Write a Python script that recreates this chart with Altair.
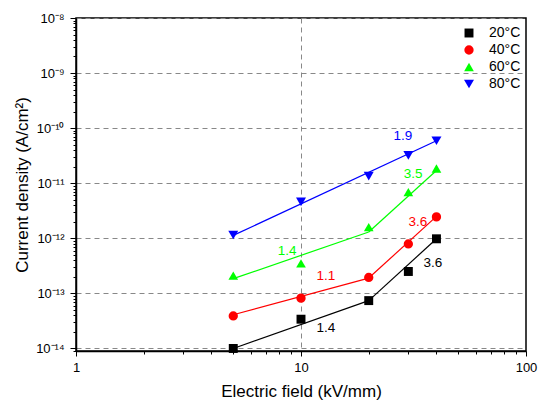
import altair as alt
import pandas as pd

temps = ["20°C", "40°C", "60°C", "80°C"]
colors = ["#000000", "#ff0000", "#00ff00", "#0000ff"]
shapes = ["square", "circle", "triangle-up", "triangle-down"]
sizes = [80, 100, 150, 150]
field = [5, 10, 20, 30, 40]
j20 = [1.0e-14, 3.4e-14, 7.4e-14, 2.5e-13, 9.8e-13]
j40 = [3.9e-14, 8.2e-14, 1.95e-13, 7.9e-13, 2.45e-12]
j60 = [2.1e-13, 3.5e-13, 1.6e-12, 6.9e-12, 1.85e-11]
j80 = [1.15e-12, 4.6e-12, 1.35e-11, 3.2e-11, 5.9e-11]

fit_temp = ["20°C", "20°C", "40°C", "40°C", "60°C", "60°C", "80°C"]
fit_x1 = [5, 20, 5, 20, 5, 20, 5]
fit_x2 = [20, 40, 20, 40, 20, 40, 40]
fit_y1 = [1.0e-14, 7.4e-14, 4.1e-14, 1.9e-13, 1.85e-13, 1.3e-12, 1.13e-12]
fit_y2 = [7.4e-14, 9.8e-13, 1.9e-13, 2.5e-12, 1.3e-12, 1.7e-11, 5.9e-11]

lab_text = ["1.9", "3.5", "3.6", "3.6", "1.4", "1.1", "1.4"]
lab_temp = ["80°C", "60°C", "40°C", "20°C", "60°C", "40°C", "20°C"]
lab_x = [28.4, 31.5, 33.1, 38.6, 8.67, 12.9, 12.9]
lab_y = [7.2e-11, 1.5e-11, 1.95e-12, 3.55e-13, 6.0e-13, 2.1e-13, 2.4e-14]

col_of = dict(zip(temps, colors))

rows = []
for t, js in zip(temps, [j20, j40, j60, j80]):
    for x, y in zip(field, js):
        rows.append({"temp": t, "E": x, "J": y})
pts = pd.DataFrame(rows)
fits = pd.DataFrame({"temp": fit_temp, "x1": fit_x1, "x2": fit_x2, "y1": fit_y1, "y2": fit_y2})
fits["c"] = fits["temp"].map(col_of)
labs = pd.DataFrame({"t": lab_text, "temp": lab_temp, "x": lab_x, "y": lab_y})
labs["c"] = labs["temp"].map(col_of)

sup = {"-": "⁻", "0": "⁰", "1": "¹", "2": "²", "3": "³", "4": "⁴", "5": "⁵", "6": "⁶", "7": "⁷", "8": "⁸", "9": "⁹"}
def supstr(e):
    return "".join(sup[ch] for ch in str(e))

LOGV = "(log(datum.value)/LN10)"
MAJOR = f"abs({LOGV} - round({LOGV})) < 0.001"

yexpr = "''"
for e in range(-8, -15, -1):
    yexpr = f"round({LOGV}) == {e} ? '10{supstr(e)}' : ({yexpr})"
yexpr = f"({MAJOR}) ? ({yexpr}) : ''"
xexpr = f"({MAJOR}) ? format(datum.value, 'd') : ''"

yvals = []
for e in range(-15, -8):
    for k in range(1, 10):
        v = float(f"{k}e{e}")
        if 9e-15 <= v <= 1.0001e-8:
            yvals.append(v)
yvals.append(1e-8)
xvals = [k * 10 ** e for e in range(0, 2) for k in range(1, 10)] + [100]

FONT = "Liberation Sans"

xscale = alt.Scale(type="log", domain=[1, 100], nice=False)
yscale = alt.Scale(type="log", domain=[9.0e-15, 1e-8], nice=False)

xaxis = alt.Axis(
    title="Electric field (kV/mm)", values=xvals, labelExpr=xexpr,
    tickSize={"condition": {"test": MAJOR, "value": 5}, "value": 3},
    grid=True, gridDash=[5, 4], gridColor="#888888",
    gridOpacity={"condition": {"test": f"({MAJOR}) && datum.value > 1 && datum.value < 100", "value": 1}, "value": 0},
    domainColor="#000000", tickColor="#000000", labelColor="#000000",
    labelFont=FONT, labelFontSize=13, titleFont=FONT, titleFontSize=17,
    titleFontWeight="normal", titleColor="#000000", labelPadding=5, titlePadding=9,
    labelFlush=False,
)
yaxis = alt.Axis(
    title="Current density (A/cm²)", values=yvals, labelExpr=yexpr,
    tickSize={"condition": {"test": MAJOR, "value": 6}, "value": 3},
    grid=True, gridDash=[5, 4], gridColor="#888888",
    gridOpacity={"condition": {"test": MAJOR, "value": 1}, "value": 0},
    domainColor="#000000", tickColor="#000000", labelColor="#000000",
    labelFont=FONT, labelFontSize=13, titleFont=FONT, titleFontSize=17,
    titleFontWeight="normal", titleColor="#000000", labelPadding=6, titlePadding=4,
    labelFlush=False,
)

lines = alt.Chart(fits).mark_rule(strokeWidth=1.2).encode(
    x=alt.X("x1:Q", scale=xscale, axis=xaxis),
    x2="x2:Q",
    y=alt.Y("y1:Q", scale=yscale, axis=yaxis),
    y2="y2:Q",
    color=alt.Color("c:N", scale=None),
)

points = alt.Chart(pts).mark_point(filled=True, opacity=1).encode(
    x=alt.X("E:Q", scale=xscale),
    y=alt.Y("J:Q", scale=yscale),
    color=alt.Color("temp:N", scale=alt.Scale(domain=temps, range=colors),
                    legend=alt.Legend(title=None, orient="none", legendX=386, legendY=8,
                                      labelFont=FONT, labelFontSize=14, labelColor="#000000",
                                      symbolSize=100, rowPadding=3, labelOffset=13)),
    shape=alt.Shape("temp:N", scale=alt.Scale(domain=temps, range=shapes)),
    size=alt.Size("temp:N", scale=alt.Scale(domain=temps, range=sizes), legend=None),
)

texts = alt.Chart(labs).mark_text(font=FONT, fontSize=13.5).encode(
    x=alt.X("x:Q", scale=xscale),
    y=alt.Y("y:Q", scale=yscale),
    text="t:N",
    color=alt.Color("c:N", scale=None),
)

chart = alt.layer(lines, points, texts).properties(
    width=450, height=333,
    autosize=alt.AutoSizeParams(type="none"),
    padding={"left": 68, "top": 10, "right": 14, "bottom": 50},
).configure_view(stroke="#000000", strokeWidth=1.5).configure_axis(domainWidth=1.5)

chart.save("out.html", embed_options={"renderer": "svg", "actions": False})
